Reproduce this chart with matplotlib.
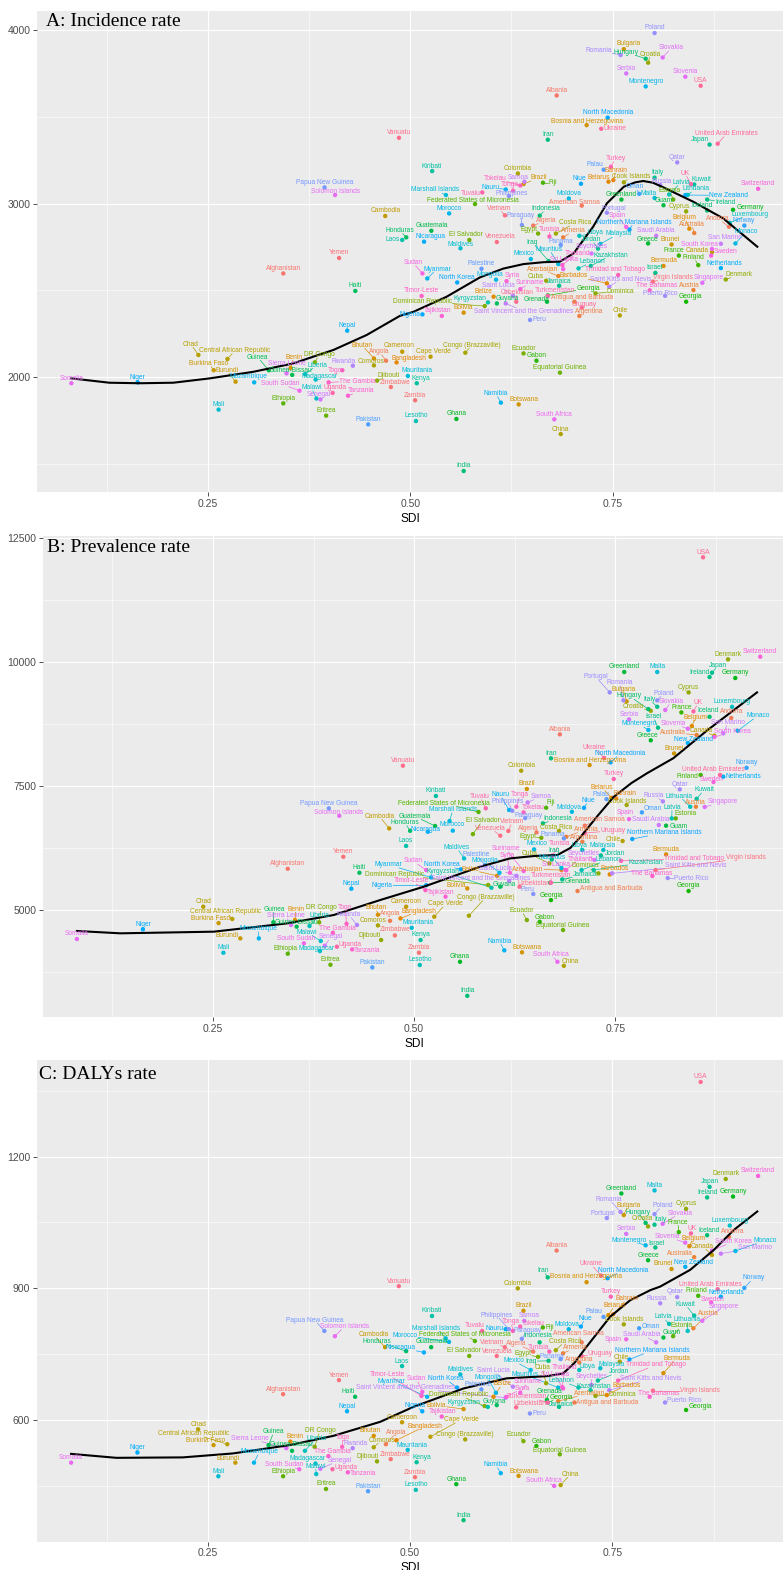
import numpy as np
import matplotlib
matplotlib.use('Agg')
import matplotlib.pyplot as plt

plt.rcParams['font.family'] = ['Liberation Sans', 'DejaVu Sans']

# %% country-level values: SDI and age-standardised rates
countries = [
    'Afghanistan', 'Albania', 'Algeria', 'American Samoa', 'Andorra', 'Angola',
    'Antigua and Barbuda', 'Argentina', 'Armenia', 'Australia', 'Austria', 'Azerbaijan',
    'Bahrain', 'Bangladesh', 'Barbados', 'Belarus', 'Belgium', 'Belize', 'Benin',
    'Bermuda', 'Bhutan', 'Bolivia', 'Bosnia and Herzegovina', 'Botswana', 'Brazil',
    'Brunei', 'Bulgaria', 'Burkina Faso', 'Burundi', 'Cambodia', 'Cameroon', 'Canada',
    'Cape Verde', 'Central African Republic', 'Chad', 'Chile', 'China', 'Colombia',
    'Comoros', 'Congo (Brazzaville)', 'Cook Islands', 'Costa Rica', 'Croatia', 'Cuba',
    'Cyprus', 'Denmark', 'Djibouti', 'Dominica', 'Dominican Republic', 'DR Congo',
    'Ecuador', 'Egypt', 'El Salvador', 'Equatorial Guinea', 'Eritrea', 'Estonia',
    'Ethiopia', 'Federated States of Micronesia', 'Fiji', 'Finland', 'France', 'Gabon',
    'Georgia', 'Georgia', 'Germany', 'Ghana', 'Greece', 'Greenland', 'Grenada', 'Guam',
    'Guatemala', 'Guinea', 'Guinea-Bissau', 'Guyana', 'Haiti', 'Honduras', 'Hungary',
    'Iceland', 'India', 'Indonesia', 'Iran', 'Iraq', 'Ireland', 'Israel', 'Italy',
    'Jamaica', 'Japan', 'Jordan', 'Kazakhstan', 'Kenya', 'Kiribati', 'Kuwait',
    'Kyrgyzstan', 'Laos', 'Latvia', 'Lebanon', 'Lesotho', 'Liberia', 'Libya',
    'Lithuania', 'Luxembourg', 'Madagascar', 'Malawi', 'Malaysia', 'Maldives', 'Mali',
    'Malta', 'Marshall Islands', 'Mauritania', 'Mauritius', 'Mexico', 'Moldova',
    'Monaco', 'Mongolia', 'Montenegro', 'Morocco', 'Mozambique', 'Myanmar', 'Namibia',
    'Nauru', 'Nepal', 'Netherlands', 'New Zealand', 'Nicaragua', 'Niger', 'Nigeria',
    'Niue', 'North Korea', 'North Macedonia', 'Northern Mariana Islands', 'Norway',
    'Oman', 'Pakistan', 'Palau', 'Palestine', 'Panama', 'Papua New Guinea', 'Paraguay',
    'Peru', 'Philippines', 'Poland', 'Portugal', 'Puerto Rico', 'Qatar', 'Romania',
    'Russia', 'Rwanda', 'Saint Kitts and Nevis', 'Saint Lucia',
    'Saint Vincent and the Grenadines', 'Samoa', 'San Marino', 'Saudi Arabia',
    'Senegal', 'Serbia', 'Seychelles', 'Sierra Leone', 'Singapore', 'Slovakia',
    'Slovenia', 'Solomon Islands', 'Somalia', 'South Africa', 'South Korea',
    'South Sudan', 'Spain', 'Sri Lanka', 'Sudan', 'Suriname', 'Sweden', 'Switzerland',
    'Syria', 'Tajikistan', 'Tanzania', 'Thailand', 'The Bahamas', 'The Gambia',
    'Timor-Leste', 'Togo', 'Tokelau', 'Tonga', 'Trinidad and Tobago', 'Tunisia',
    'Turkey', 'Turkmenistan', 'Tuvalu', 'Uganda', 'UK', 'Ukraine',
    'United Arab Emirates', 'Uruguay', 'USA', 'Uzbekistan', 'Vanuatu', 'Venezuela',
    'Vietnam', 'Virgin Islands', 'Yemen', 'Zambia', 'Zimbabwe',
]

sdi = [
    0.343, 0.681, 0.652, 0.712, 0.894, 0.470, 0.703, 0.709, 0.689, 0.851, 0.850, 0.683,
    0.751, 0.483, 0.743, 0.745, 0.845, 0.603, 0.352, 0.813, 0.455, 0.566, 0.718, 0.634,
    0.640, 0.823, 0.764, 0.257, 0.284, 0.469, 0.490, 0.873, 0.525, 0.274, 0.238, 0.759,
    0.686, 0.633, 0.455, 0.568, 0.764, 0.680, 0.794, 0.668, 0.841, 0.890, 0.459, 0.729,
    0.592, 0.382, 0.640, 0.658, 0.573, 0.685, 0.396, 0.825, 0.343, 0.580, 0.664, 0.856,
    0.832, 0.656, 0.670, 0.841, 0.899, 0.557, 0.794, 0.761, 0.669, 0.813, 0.526, 0.325,
    0.354, 0.607, 0.432, 0.495, 0.791, 0.867, 0.566, 0.660, 0.670, 0.671, 0.867, 0.803,
    0.802, 0.684, 0.870, 0.732, 0.723, 0.508, 0.527, 0.851, 0.596, 0.490, 0.820, 0.708,
    0.507, 0.370, 0.709, 0.843, 0.895, 0.383, 0.384, 0.735, 0.562, 0.263, 0.802, 0.544,
    0.497, 0.683, 0.649, 0.696, 0.902, 0.606, 0.791, 0.548, 0.307, 0.521, 0.612, 0.618,
    0.422, 0.884, 0.840, 0.517, 0.163, 0.515, 0.711, 0.558, 0.744, 0.771, 0.913, 0.783,
    0.448, 0.739, 0.588, 0.686, 0.394, 0.638, 0.648, 0.622, 0.802, 0.743, 0.815, 0.830,
    0.760, 0.809, 0.429, 0.746, 0.627, 0.618, 0.641, 0.884, 0.804, 0.389, 0.767, 0.724,
    0.347, 0.861, 0.812, 0.840, 0.407, 0.081, 0.678, 0.873, 0.363, 0.767, 0.689, 0.515,
    0.636, 0.872, 0.930, 0.619, 0.539, 0.423, 0.688, 0.796, 0.399, 0.514, 0.416, 0.636,
    0.627, 0.757, 0.672, 0.748, 0.670, 0.589, 0.404, 0.847, 0.736, 0.880, 0.712, 0.859,
    0.631, 0.486, 0.607, 0.617, 0.800, 0.412, 0.506, 0.476,
]

incidence = [
    2597, 3623, 2873, 2988, 2866, 2094, 2434, 2352, 2805, 2830, 2501, 2582,
    3135, 2084, 2540, 3126, 2855, 2463, 2052, 2640, 2107, 2371, 3452, 1842,
    3112, 2764, 3890, 2039, 1973, 2928, 2146, 2720, 2117, 2104, 2127, 2355,
    1671, 3173, 2067, 2140, 3122, 2827, 3812, 2555, 2955, 2562, 1979, 2482,
    2409, 2085, 2136, 2827, 2790, 2025, 1777, 3023, 1848, 2997, 3120, 2645,
    2700, 2094, 2470, 2434, 2964, 1758, 2770, 3023, 2434, 2990, 2843, 2039,
    2012, 2424, 2496, 2805, 3835, 2960, 1458, 2930, 3368, 2669, 3023, 2600,
    3149, 2526, 3340, 2740, 2640, 1964, 3187, 3110, 2430, 2790, 3052, 2626,
    1746, 2017, 2814, 3050, 2889, 1985, 1876, 2767, 2742, 1812, 3032, 3049,
    2006, 2651, 2680, 3029, 2770, 2561, 3675, 2943, 1969, 2568, 1852, 3081,
    2267, 2628, 3049, 2780, 1969, 2361, 3114, 2545, 3495, 2850, 2873, 3056,
    1727, 3195, 2624, 2761, 3093, 2876, 2329, 3043, 3983, 2947, 2468, 3237,
    3856, 3107, 2065, 2520, 2468, 2424, 3126, 2768, 2814, 1871, 3750, 2712,
    2021, 2543, 3842, 3731, 3049, 1964, 1756, 2738, 1921, 2865, 2622, 2597,
    2507, 2700, 3085, 2553, 2352, 1892, 2645, 2500, 1969, 2467, 2039, 3104,
    3074, 2588, 2810, 3212, 2467, 3064, 1908, 3112, 3431, 3345, 2400, 3679,
    2434, 3379, 2778, 2932, 2550, 2686, 1866, 1942,
]

prevalence = [
    5831, 8541, 6565, 6700, 8871, 4782, 5383, 6376, 6476, 8528, 7082, 5806,
    7250, 4831, 5718, 7262, 8710, 5690, 4798, 6121, 4904, 5436, 7923, 4147,
    7440, 8157, 9206, 4736, 4428, 6645, 5067, 8514, 4865, 4819, 5067, 6391,
    3875, 7808, 4690, 4885, 7117, 6593, 9016, 5940, 9387, 10054, 4395, 5738,
    5504, 4752, 4798, 6456, 6530, 4597, 3896, 6847, 4119, 6976, 7062, 7722,
    8984, 4762, 5200, 5383, 9677, 3956, 8421, 9798, 5550, 6700, 6694, 4752,
    4664, 5470, 5751, 6597, 9050, 8895, 3270, 6746, 8058, 6020, 9697, 8675,
    9097, 5617, 9784, 6100, 5806, 4395, 7298, 7242, 5449, 6290, 6847, 5806,
    3891, 4677, 6210, 7082, 9097, 4173, 4375, 6210, 6040, 4139, 9798, 6794,
    4641, 5847, 6222, 6980, 8613, 5751, 8629, 6600, 4428, 5657, 4187, 7016,
    5429, 7688, 8367, 6577, 4611, 5500, 7060, 5819, 7976, 6431, 7867, 6968,
    3843, 7236, 5900, 6444, 7049, 6853, 5323, 7000, 9226, 9387, 5645, 7433,
    9226, 7190, 4698, 5740, 5690, 5585, 7169, 8561, 6713, 4280, 8843, 6008,
    4698, 7077, 9032, 8655, 6899, 4415, 3956, 8488, 4328, 6833, 5800, 5806,
    5786, 7581, 10107, 5751, 5268, 4206, 5806, 5685, 4542, 5400, 4722, 6968,
    7082, 5992, 6100, 7641, 5550, 7050, 4260, 9004, 8065, 7722, 6552, 12111,
    5470, 7909, 6498, 6593, 5806, 6073, 4139, 4488,
]

dalys = [
    659, 986, 756, 777, 1017, 545, 640, 731, 752, 971, 809, 643,
    841, 554, 657, 839, 996, 653, 551, 707, 564, 625, 914, 473,
    849, 944, 1067, 543, 503, 766, 595, 976, 562, 545, 579, 733,
    452, 900, 538, 556, 818, 759, 1041, 684, 1081, 1149, 506, 655,
    632, 539, 552, 744, 746, 522, 443, 791, 472, 780, 811, 883,
    1028, 541, 640, 623, 1109, 454, 964, 1116, 646, 788, 766, 543,
    530, 634, 653, 757, 1049, 1021, 372, 777, 925, 735, 1107, 993,
    1045, 630, 1131, 690, 668, 504, 837, 838, 630, 723, 819, 674,
    441, 530, 714, 803, 1043, 501, 477, 718, 704, 472, 1123, 786,
    532, 674, 714, 807, 985, 662, 998, 778, 503, 653, 479, 807,
    620, 881, 949, 754, 526, 620, 813, 674, 923, 738, 901, 809,
    438, 835, 670, 739, 803, 785, 615, 807, 1069, 1060, 640, 880,
    1074, 866, 536, 668, 676, 651, 826, 979, 777, 489, 1024, 680,
    536, 826, 1047, 1004, 791, 503, 450, 986, 488, 784, 672, 664,
    662, 868, 1156, 653, 608, 481, 675, 653, 518, 655, 539, 813,
    803, 690, 756, 881, 640, 803, 488, 1025, 929, 898, 746, 1370,
    629, 905, 746, 766, 667, 691, 470, 511,
]

# smoothed trend lines, read along SDI
inc_fit_sdi = [0.081, 0.128, 0.166, 0.207, 0.252, 0.306, 0.355, 0.405, 0.446, 0.487,
               0.504, 0.545, 0.586, 0.615, 0.640, 0.665, 0.685, 0.702, 0.714, 0.726,
               0.743, 0.764, 0.778, 0.788, 0.800, 0.813, 0.850, 0.887, 0.929]
inc_fit = [1992, 1967, 1964, 1967, 1992, 2030, 2078, 2156, 2242, 2352,
           2376, 2463, 2574, 2625, 2651, 2662, 2665, 2713, 2790, 2866,
           3001, 3097, 3122, 3130, 3120, 3093, 3010, 2914, 2751]

prev_fit_sdi = [0.081, 0.135, 0.251, 0.342, 0.400, 0.458, 0.512, 0.582, 0.619, 0.650,
                0.678, 0.694, 0.707, 0.728, 0.748, 0.770, 0.789, 0.822, 0.864, 0.926]
prev_fit = [4577, 4530, 4563, 4730, 4899, 5202, 5470, 5873, 6040, 6090,
            6109, 6250, 6478, 6900, 7282, 7560, 7754, 8060, 8620, 9387]

daly_fit_sdi = [0.081, 0.137, 0.219, 0.281, 0.351, 0.405, 0.463, 0.504, 0.566, 0.619,
                0.669, 0.689, 0.703, 0.718, 0.747, 0.772, 0.797, 0.809, 0.846, 0.875,
                0.900, 0.929]
daly_fit = [523, 514, 515, 524, 543, 564, 596, 630, 672, 695,
            700, 706, 730, 767, 835, 873, 896, 904, 942, 987,
            1033, 1075]


# %% ggplot-style hue palette (polar LUV, l=65, c=100)
def hue_pal(n, l=65.0, c=100.0):
    hues = np.linspace(15, 375, n + 1)[:n]
    Xn, Yn, Zn = 95.047, 100.0, 108.883
    un = 4 * Xn / (Xn + 15 * Yn + 3 * Zn)
    vn = 9 * Yn / (Xn + 15 * Yn + 3 * Zn)
    Y = Yn * ((l + 16) / 116) ** 3
    out = []
    for hh in hues:
        hr = np.deg2rad(hh)
        u = c * np.cos(hr) / (13 * l) + un
        v = c * np.sin(hr) / (13 * l) + vn
        X = 9 * Y * u / (4 * v)
        Z = -X / 3 - 5 * Y + 3 * Y / v
        rgb = np.array([3.240479 * X - 1.537150 * Y - 0.498535 * Z,
                        -0.969256 * X + 1.875992 * Y + 0.041556 * Z,
                        0.055648 * X - 0.204043 * Y + 1.057311 * Z]) / 100
        rgb = np.where(rgb <= 0.0031308, 12.92 * rgb, 1.055 * np.abs(rgb) ** (1 / 2.4) - 0.055)
        out.append(tuple(np.clip(rgb, 0, 1)))
    return out


levels = sorted(set(countries), key=str.lower)
pal = dict(zip(levels, hue_pal(len(levels))))
colors = [pal[c] for c in countries]


# %% simple label repulsion in pixel space
def repel(px, py, w, h, x0, x1, y0, y1, n_iter=3000):
    n = len(px)
    idx = np.arange(n)
    order = np.sign(idx[:, None] - idx[None, :]).astype(float)
    lx = px + ((idx * 7919) % 11 - 5) * 0.3
    ly = py + h / 2 + 2.5
    for k in range(n_iter):
        settle = k >= int(0.55 * n_iter)
        step = 0.45 if settle else 0.35
        r = 1.6 if settle else 2.4
        dx = lx[:, None] - lx[None, :]
        dy = ly[:, None] - ly[None, :]
        sx = np.where(dx == 0, order, np.sign(dx))
        sy = np.where(dy == 0, order, np.sign(dy))
        ox = (w[:, None] + w[None, :]) / 2 + 1.5 - np.abs(dx)
        oy = (h[:, None] + h[None, :]) / 2 + 0.9 - np.abs(dy)
        hit = (ox > 0) & (oy > 0)
        np.fill_diagonal(hit, False)
        along_y = oy < ox
        # mostly vertical pushes, with a sideways share so stacks spread out
        fx = 0.5 * np.where(hit & ~along_y, sx * ox, 0).sum(1)
        fx += 0.5 * np.where(hit & along_y, sx * np.minimum(ox, 3 * oy), 0).sum(1) * 0.3
        fy = 0.5 * np.where(hit & along_y, sy * oy, 0).sum(1)
        # keep labels off the points
        qx = lx[:, None] - px[None, :]
        qy = ly[:, None] - py[None, :]
        pox = w[:, None] / 2 + r - np.abs(qx)
        poy = h[:, None] / 2 + r - np.abs(qy)
        phit = (pox > 0) & (poy > 0)
        p_y = poy < pox
        pw = 0.4 if settle else 0.7
        fx += pw * np.where(phit & ~p_y, np.where(qx == 0, 1, np.sign(qx)) * pox, 0).sum(1)
        fy += pw * np.where(phit & p_y, np.where(qy == 0, 1, np.sign(qy)) * poy, 0).sum(1)
        if not settle:
            fx += 0.02 * (px - lx)
            fy += 0.02 * (py - ly)
        lx = np.clip(lx + step * fx, x0 + w / 2, x1 - w / 2)
        ly = np.clip(ly + step * fy, y0 + h / 2, y1 - h / 2)
    return lx, ly


# %% figure
W, H = 783, 1570
fig = plt.figure(figsize=(W / 100, H / 100), dpi=100)


def px_rect(l, t, r, b):
    return [l / W, 1 - b / H, (r - l) / W, (b - t) / H]


panels = [
    dict(title='A: Incidence rate', y=incidence, fit=(inc_fit_sdi, inc_fit),
         rect=(37, 11, 784, 492), ylim=(1337, 4110),
         major=[2000, 3000, 4000], minor=[1500, 2500, 3500], toff=(9.5, 2)),
    dict(title='B: Prevalence rate', y=prevalence, fit=(prev_fit_sdi, prev_fit),
         rect=(42.7, 536, 786, 1017), ylim=(2843, 12540),
         major=[5000, 7500, 10000, 12500], minor=[3750, 6250, 8750, 11250], toff=(4, 3)),
    dict(title='C: DALYs rate', y=dalys, fit=(daly_fit_sdi, daly_fit),
         rect=(36.7, 1060, 784, 1541.7), ylim=(323, 1420),
         major=[600, 900, 1200], minor=[450, 750, 1050, 1350], toff=(2, 6)),
]

renderer = fig.canvas.get_renderer()
for p in panels:
    ax = fig.add_axes(px_rect(*p['rect']))
    ax.set_facecolor('#EBEBEB')
    for s in ax.spines.values():
        s.set_visible(False)
    ax.set_xlim(0.0385, 0.962)
    ax.set_ylim(*p['ylim'])
    ax.set_xticks([0.25, 0.50, 0.75])
    ax.set_xticklabels(['0.25', '0.50', '0.75'])
    ax.set_xticks([0.125, 0.375, 0.625, 0.875], minor=True)
    ax.set_yticks(p['major'])
    ax.set_yticks(p['minor'], minor=True)
    ax.grid(which='major', color='white', lw=0.85)
    ax.grid(which='minor', color='white', lw=0.4)
    ax.set_axisbelow(True)
    ax.tick_params(which='major', length=2.75, width=0.6, color='#333333',
                   labelsize=7.5, labelcolor='#4D4D4D', pad=2)
    ax.tick_params(which='minor', length=0)
    ax.set_xlabel('SDI', fontsize=8.6, labelpad=3)

    ax.scatter(sdi, p['y'], s=10, c=colors, linewidths=0, zorder=3)
    ax.plot(p['fit'][0], p['fit'][1], color='black', lw=1.5, zorder=4,
            solid_joinstyle='round')

    ax.annotate(p['title'], xy=(0, 1), xycoords='axes fraction',
                xytext=(p['toff'][0] * 0.72, -p['toff'][1] * 0.72), textcoords='offset points',
                ha='left', va='top', fontsize=14, family='Liberation Serif', color='black')

    # country labels, pushed apart from each other and from the points
    pts = ax.transData.transform(np.column_stack([sdi, p['y']]))
    texts = [ax.text(0, 0, name, fontsize=4.8, color=col, ha='center', va='center',
                     zorder=5, clip_on=True)
             for name, col in zip(countries, colors)]
    ext = [t.get_window_extent(renderer) for t in texts]
    tw = np.array([e.width for e in ext])
    th = np.array([e.height for e in ext]) * 0.8
    bb = ax.get_window_extent(renderer)
    lx, ly = repel(pts[:, 0], pts[:, 1], tw, th, bb.x0, min(bb.x1, W), bb.y0, bb.y1)
    inv = ax.transData.inverted()
    pos = inv.transform(np.column_stack([lx, ly]))
    for i, t in enumerate(texts):
        t.set_position(pos[i])
        ddx, ddy = pts[i, 0] - lx[i], pts[i, 1] - ly[i]
        hw, hh = tw[i] / 2 + 0.5, th[i] / 2 + 0.5
        if abs(ddx) <= hw and abs(ddy) <= hh:
            continue
        sc = min(hw / abs(ddx) if ddx else np.inf, hh / abs(ddy) if ddy else np.inf)
        ex, ey = lx[i] + ddx * sc, ly[i] + ddy * sc
        if np.hypot(pts[i, 0] - ex, pts[i, 1] - ey) < 4:
            continue
        seg = inv.transform([[pts[i, 0], pts[i, 1]], [ex, ey]])
        ax.plot(seg[:, 0], seg[:, 1], color=colors[i], lw=0.5, zorder=2.5)

fig.savefig('out.png', dpi=100, facecolor='white')
